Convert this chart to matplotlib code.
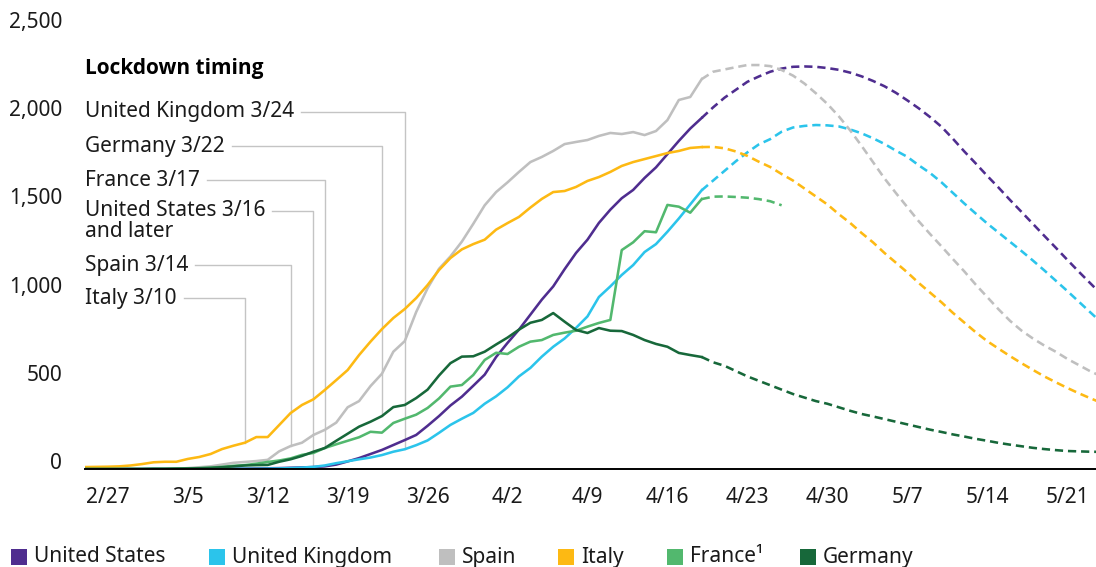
import datetime as dt
import numpy as np
import matplotlib
matplotlib.use("Agg")
import matplotlib.pyplot as plt
from matplotlib.patches import Rectangle
from matplotlib import font_manager as fm

plt.rcParams['font.family'] = ['Noto Sans', 'DejaVu Sans']

# ---------------- data ----------------
START = dt.date(2020, 2, 25)          # day index 0
PROJ_START = 54                        # first projected day (dashed) index

countries = ["United States", "United Kingdom", "Spain", "Italy", "France\u00b9", "Germany"]
colors = ["#4F2D8F", "#2BC4EB", "#BFBFBF", "#FDB913", "#52B86E", "#17683A"]

us_actual = [0, 0, 0, 0, 0, 0, 0, 0, 1, 1, 1, 1, 2, 2, 2, 3, 4,
             5, 7, 9, 11, 15, 25, 43, 62, 85, 108, 136, 164, 193, 245, 300, 360, 410, 472, 535,
             635, 715, 790, 875, 960, 1035, 1133, 1225, 1300, 1395, 1470, 1535, 1582, 1650,
             1710, 1785, 1860, 1930, 1990]
us_proj = [1990, 2050, 2105, 2150, 2195, 2225, 2252, 2270, 2280, 2282, 2280, 2273, 2263, 2247,
           2226, 2200, 2170, 2133, 2090, 2045, 1995, 1940, 1872, 1800, 1732, 1662, 1595, 1525,
           1458, 1390, 1322, 1255, 1187, 1120, 1055, 990]

uk_actual = [0, 0, 0, 0, 0, 0, 0, 0, 0, 0, 0, 0, 1, 1, 1, 1, 2, 3, 5, 8, 12, 20, 33, 44, 55,
             65, 79, 98, 112, 135, 162, 205, 250, 285, 318, 370, 412, 463, 525, 573, 637, 693,
             740, 800, 865, 975, 1035, 1100, 1156, 1230, 1275, 1345, 1420, 1500, 1580]
uk_proj = [1580, 1635, 1690, 1745, 1795, 1840, 1870, 1912, 1936, 1945, 1950, 1948, 1942, 1925,
           1903, 1875, 1843, 1805, 1770, 1722, 1678, 1625, 1565, 1505, 1448, 1392, 1340, 1288,
           1236, 1182, 1126, 1068, 1010, 950, 890, 830]

spain_actual = [0, 0, 0, 0, 0, 0, 0, 0, 1, 5, 10, 15, 25, 35, 40, 45, 52, 100, 130, 149, 193,
                222, 263, 350, 385, 470, 540, 665, 725, 890, 1025, 1135, 1205, 1289, 1390, 1495,
                1570, 1625, 1684, 1740, 1769, 1803, 1842, 1854, 1865, 1888, 1905, 1899, 1910,
                1893, 1916, 1978, 2092, 2109, 2210]
spain_proj = [2210, 2252, 2265, 2278, 2290, 2290, 2284, 2262, 2230, 2185, 2130, 2070, 2000,
              1920, 1832, 1740, 1648, 1565, 1485, 1405, 1332, 1262, 1190, 1120, 1045, 975, 905,
              840, 785, 740, 700, 665, 625, 590, 555, 525]

italy_actual = [11, 12, 13, 15, 20, 28, 38, 41, 41, 57, 68, 85, 113, 132, 149, 181, 181, 249,
                317, 363, 395, 448, 504, 561, 646, 722, 793, 856, 907, 969, 1043, 1128, 1196,
                1245, 1275, 1300, 1357, 1394, 1429, 1482, 1531, 1570, 1576, 1599, 1633, 1655,
                1684, 1718, 1740, 1757, 1774, 1791, 1803, 1820, 1825]
italy_proj = [1825, 1826, 1818, 1800, 1775, 1742, 1712, 1672, 1635, 1590, 1545, 1500, 1445,
              1395, 1338, 1285, 1225, 1170, 1115, 1055, 1000, 945, 885, 830, 775, 725, 682, 640,
              600, 562, 525, 492, 460, 430, 402, 375]

france_actual = [0, 0, 0, 0, 0, 0, 1, 1, 2, 3, 5, 8, 12, 18, 22, 30, 40, 48, 60, 80, 91, 119,
                 140, 160, 180, 211, 206, 261, 285, 308, 346, 400, 467, 476, 533, 618, 659, 652,
                 693, 722, 731, 760, 773, 784, 807, 828, 845, 1241, 1285, 1348, 1342, 1497,
                 1487, 1453, 1530]
france_proj = [1530, 1544, 1545, 1542, 1538, 1530, 1518, 1495]

germany_actual = [0, 0, 0, 0, 0, 0, 1, 1, 2, 3, 4, 6, 10, 15, 20, 22, 23, 41, 55, 74, 98, 119,
                  160, 200, 240, 268, 300, 351, 363, 402, 450, 530, 600, 637, 639, 665, 706,
                  745, 790, 829, 845, 884, 835, 788, 771, 799, 784, 782, 760, 731, 709, 693,
                  658, 646, 635]
germany_proj = [635, 605, 585, 555, 525, 500, 475, 450, 425, 405, 385, 370, 350, 330, 312, 298,
                283, 268, 253, 238, 223, 210, 196, 184, 171, 160, 148, 138, 129, 120, 113, 107,
                102, 100, 98, 97]

actual = [us_actual, uk_actual, spain_actual, italy_actual, france_actual, germany_actual]
projected = [us_proj, uk_proj, spain_proj, italy_proj, france_proj, germany_proj]

# lockdown annotations (label, date, series index), from top to bottom
lockdown_labels = ["United Kingdom 3/24", "Germany 3/22", "France 3/17",
                   "United States 3/16", "Spain 3/14", "Italy 3/10"]
lockdown_dates = [dt.date(2020, 3, 24), dt.date(2020, 3, 22), dt.date(2020, 3, 17),
                  dt.date(2020, 3, 16), dt.date(2020, 3, 14), dt.date(2020, 3, 10)]
lockdown_series = [1, 5, 4, 0, 2, 3]
lockdown_label_y = [2024, 1831, 1638, 1463, 1156, 969]

y_ticks = [0, 500, 1000, 1500, 2000, 2500]
x_tick_dates = [START + dt.timedelta(days=2 + 7 * k) for k in range(13)]

# ---------------- figure ----------------
W, H = 1096, 567
fig = plt.figure(figsize=(W / 100, H / 100), dpi=100)
ax = fig.add_axes([85 / W, 98 / H, 1011 / W, 441 / H])

PX_PER_DAY = 11.42
ax.set_xlim(0, 1011 / PX_PER_DAY)
ax.set_ylim(0, 2500)

LW = 1.85
for vals, proj, c in zip(actual, projected, colors):
    ax.plot(np.arange(len(vals)), vals, color=c, lw=LW, zorder=3,
            solid_joinstyle='round')
    ax.plot(np.arange(PROJ_START, PROJ_START + len(proj)), proj, color=c, lw=LW,
            dashes=(3.2, 1.9), zorder=3)

for s in ["top", "right", "left"]:
    ax.spines[s].set_visible(False)
ax.spines["bottom"].set_linewidth(1.4)
ax.spines["bottom"].set_color("black")
ax.spines["bottom"].set_zorder(4)

FS = 15
TXT = "#1a1a1a"
ax.set_yticks(y_ticks)
ax.set_yticklabels([f"{v:,}" for v in y_ticks])
for lbl in ax.get_yticklabels():
    lbl.set_va("baseline")
ax.tick_params(axis="y", length=0, pad=16.5, labelsize=FS, labelcolor=TXT)

ax.set_xticks([(d - START).days for d in x_tick_dates])
ax.set_xticklabels([f"{d.month}/{d.day}" for d in x_tick_dates])
ax.tick_params(axis="x", length=0, pad=13, labelsize=FS, labelcolor=TXT)

# pick a family that really has a bold face
bold_family = 'DejaVu Sans'
for fam in ['Noto Sans', 'Open Sans', 'Lato', 'Roboto', 'Liberation Sans']:
    try:
        p = fm.findfont(fm.FontProperties(family=fam, weight='bold'), fallback_to_default=False)
        if 'bold' in p.lower() or 'black' in p.lower():
            bold_family = fam
            break
    except Exception:
        pass

ax.text(0, 2273, "Lockdown timing", fontsize=FS, fontweight="bold", va="center",
        color="black", family=[bold_family, 'DejaVu Sans'])
texts = []
for lab, yv in zip(lockdown_labels, lockdown_label_y):
    texts.append(ax.text(0, yv, lab, fontsize=FS, va="center", color=TXT))
ax.text(0, 1349, "and later", fontsize=FS, va="center", color=TXT)

fig.canvas.draw()
r = fig.canvas.get_renderer()
inv = ax.transData.inverted()
for t, d, si, yv in zip(texts, lockdown_dates, lockdown_series, lockdown_label_y):
    bb = t.get_window_extent(r)
    x0 = inv.transform((bb.x1 + 7, 0))[0]
    xd = (d - START).days
    yend = actual[si][xd]
    ax.plot([x0, xd, xd], [yv, yv, yend], color="#C4C4C4", lw=1.0, zorder=1,
            clip_on=False)

# legend
sq_x = [11, 209, 439, 558, 667, 800]
yc = 557
for x, name, c in zip(sq_x, countries, colors):
    fig.add_artist(Rectangle((x / W, (H - yc - 8) / H), 16 / W, 16 / H,
                             transform=fig.transFigure, color=c, lw=0))
    fig.text((x + 23) / W, (H - yc) / H, name, fontsize=FS, va="center",
             ha="left", color=TXT)

fig.savefig("out.png", dpi=100)
